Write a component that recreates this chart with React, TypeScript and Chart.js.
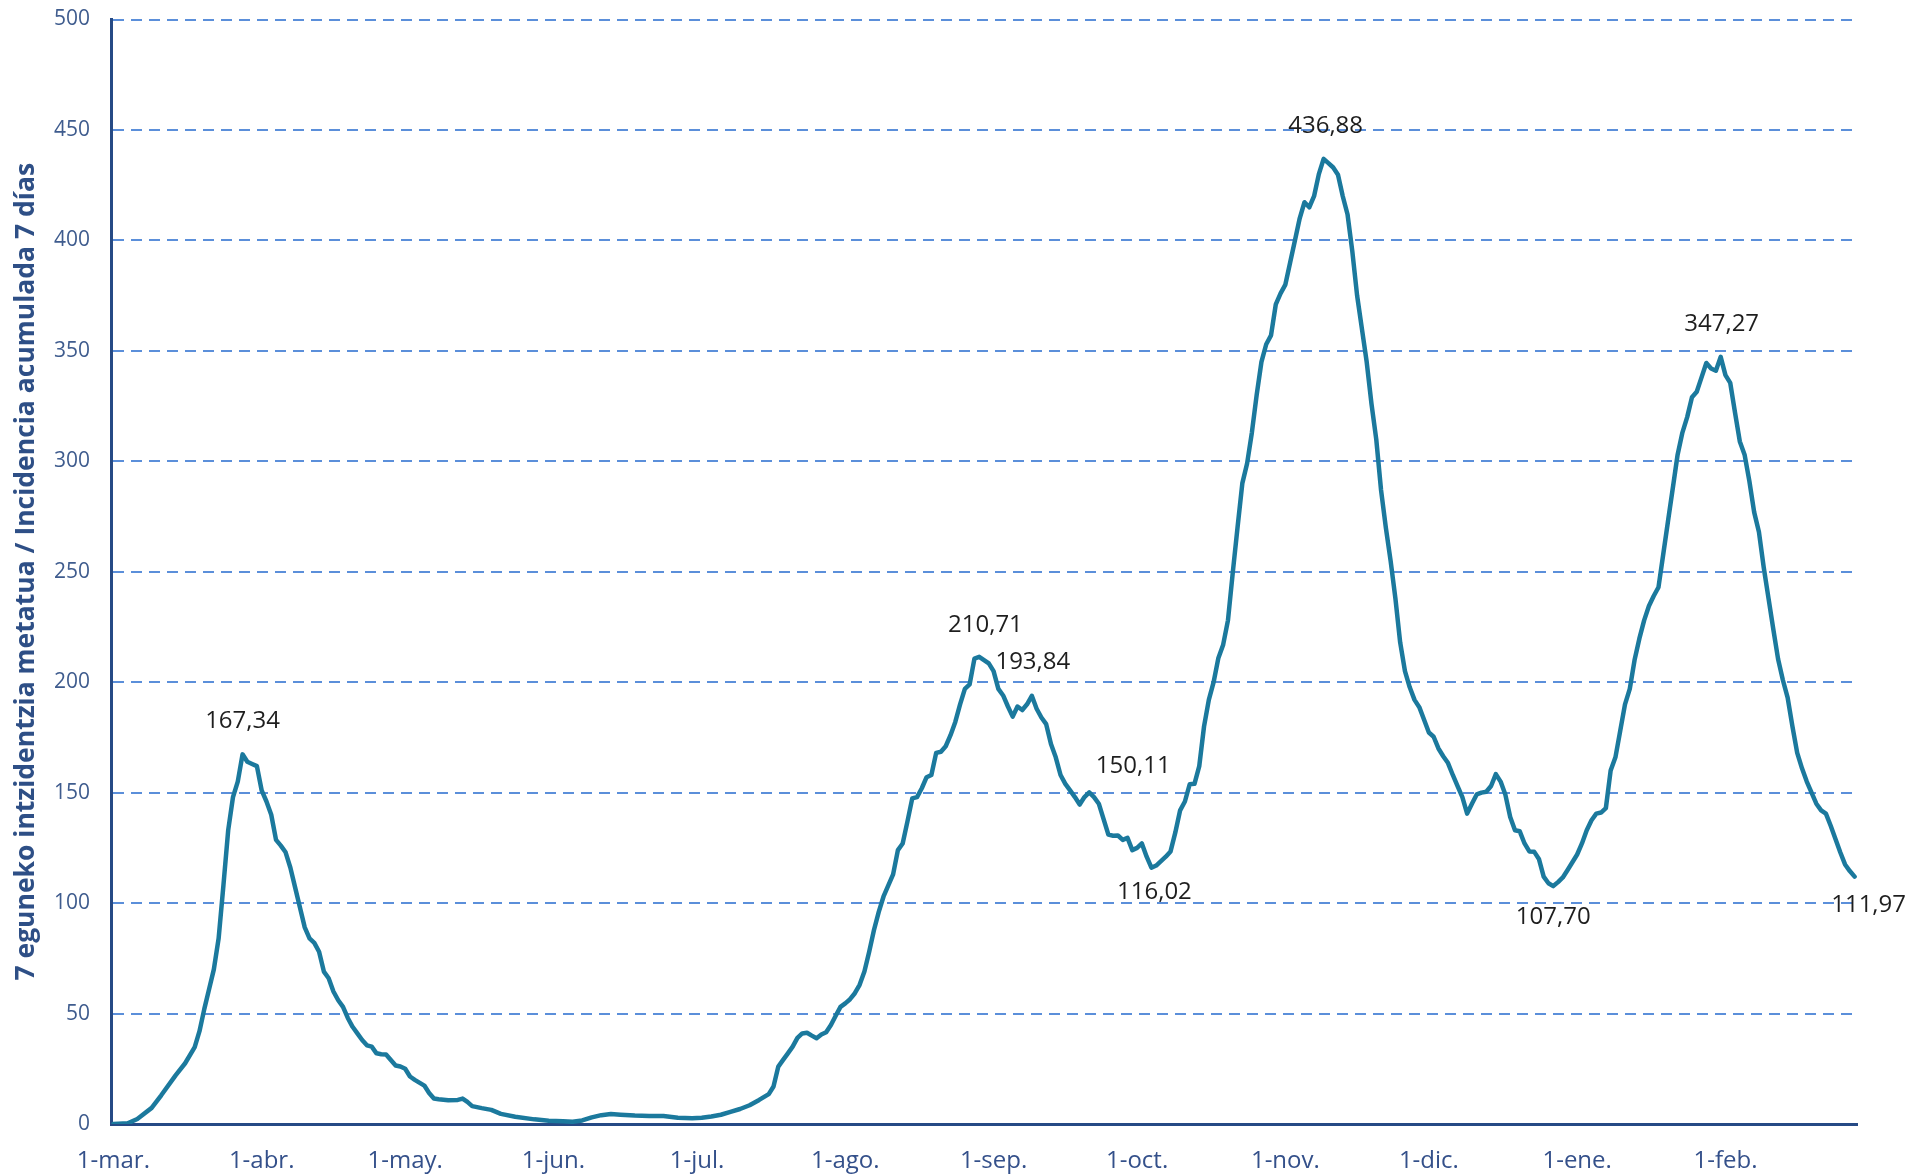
import React, { useEffect, useRef } from "react";
import { Chart, registerables } from "chart.js";

Chart.register(...registerables);

// Day index counted from 1-mar-2020 (day 0) to 28-feb-2021 (day 364)
const days: number[] = [
  0, 3, 5, 8, 10, 13, 15, 17, 18, 19, 20, 21, 22, 23, 24, 25, 26, 27, 28, 29,
  30, 31, 32, 33, 34, 35, 36, 37, 38, 39, 40, 41, 42, 43, 44, 45, 46, 47, 48, 49,
  50, 51, 52, 53, 54, 55, 56, 57, 58, 59, 60, 61, 62, 63, 65, 66, 67, 68, 70, 72,
  73, 74, 75, 77, 79, 81, 84, 88, 91, 94, 96, 98, 100, 102, 104, 106, 109, 112, 115, 118,
  121, 123, 125, 127, 129, 131, 133, 135, 137, 138, 139, 140, 141, 142, 143, 144, 145, 146, 147, 148,
  149, 150, 151, 152, 153, 154, 155, 156, 157, 158, 159, 160, 161, 162, 163, 164, 165, 166, 167, 168,
  169, 170, 171, 172, 173, 174, 175, 176, 177, 178, 179, 180, 181, 182, 183, 184, 185, 186, 187, 188,
  189, 190, 191, 192, 193, 194, 195, 196, 197, 198, 199, 200, 201, 202, 203, 204, 205, 206, 207, 208,
  209, 210, 211, 212, 213, 214, 215, 216, 217, 218, 219, 220, 221, 222, 223, 224, 225, 226, 227, 228,
  229, 230, 231, 232, 233, 234, 235, 236, 237, 238, 239, 240, 241, 242, 243, 244, 245, 246, 247, 248,
  249, 250, 251, 252, 253, 254, 255, 256, 257, 258, 259, 260, 261, 262, 263, 264, 265, 266, 267, 268,
  269, 270, 271, 272, 273, 274, 275, 276, 277, 278, 279, 280, 281, 282, 283, 284, 285, 286, 287, 288,
  289, 290, 291, 292, 293, 294, 295, 296, 297, 298, 299, 300, 301, 302, 303, 304, 305, 306, 307, 308,
  309, 310, 311, 312, 313, 314, 315, 316, 317, 318, 319, 320, 321, 322, 323, 324, 325, 326, 327, 328,
  329, 330, 331, 332, 333, 334, 335, 336, 337, 338, 339, 340, 341, 342, 343, 344, 345, 346, 347, 348,
  349, 350, 351, 352, 353, 354, 355, 356, 357, 358, 359, 360, 361, 362, 363, 364,
];

const incidence: number[] = [
  0, 0.3, 2.3, 7.3, 13, 22, 27.5, 34.8, 42, 52, 61, 70, 84, 108, 133, 148, 155, 167.34, 164, 163,
  162, 151, 146, 140, 128.6, 126, 123, 116, 107, 98, 89, 84, 82, 78, 69, 66, 60, 56, 53, 48,
  44, 41, 38, 35.6, 35, 32, 31.6, 31.5, 29, 26.5, 26, 25, 21.5, 20, 17.4, 14, 11.5, 11.2, 10.8, 10.9,
  11.5, 10, 8.1, 7.2, 6.4, 4.6, 3.3, 2.1, 1.5, 1.2, 1.0, 1.6, 3.0, 4.0, 4.5, 4.2, 3.8, 3.6, 3.6, 2.8,
  2.6, 2.8, 3.4, 4.2, 5.5, 6.8, 8.5, 10.9, 13.5, 17, 26, 29, 32, 35, 39, 41, 41.3, 40, 38.8, 40.5,
  41.5, 44.8, 49, 53, 54.6, 56.5, 59.2, 63, 69, 78, 87.8, 96, 103, 108, 113, 124, 127, 137, 147.4, 148,
  152, 157, 158, 168, 168.5, 171, 176, 182, 190, 197, 199, 210.71, 211.5, 210, 208.5, 205, 197, 194, 189, 184.4,
  189, 187.4, 190, 193.84, 188, 184, 181, 172, 166, 158, 154, 151, 148, 144.6, 148, 150.11, 148, 145, 138, 131,
  130.5, 130.6, 128.6, 129.5, 124, 125, 127, 121, 116.02, 117, 119, 121, 123.4, 132, 142, 146, 153.8, 154, 162, 180,
  192, 200, 211, 217, 228, 249.5, 270, 290, 299, 313, 330, 345, 353, 357, 371, 376, 380, 390, 400, 410,
  417.3, 415, 420, 430, 436.88, 435, 433, 429.7, 420, 411.7, 395, 375, 360, 345, 326, 310, 287, 270, 255, 238,
  218, 205, 197.7, 192, 188.7, 183, 177.2, 175.3, 170, 166.5, 163.4, 158, 153, 148, 140.5, 145, 149.2, 150, 150.4, 153,
  158.4, 155, 149, 139, 133, 132.5, 127, 123.4, 123.3, 120, 112, 109, 107.7, 109.5, 111.6, 115, 118.5, 122, 127, 133,
  137.5, 140.5, 141, 143, 160, 166, 178, 190, 197, 210, 219.7, 228, 234.5, 239, 243, 258, 273, 288, 303, 313,
  320, 329, 331.5, 338, 344.5, 342, 341, 347.27, 339, 335.5, 322, 309, 303, 291, 277, 268, 252, 238, 224, 210.5,
  201, 193, 180, 168, 161, 155, 150, 145, 142, 140.5, 135, 129, 123, 117.5, 114.5, 111.97,
];

const monthTickDays: number[] = [0, 31, 61, 92, 122, 153, 184, 214, 245, 275, 306, 337];
const monthTickLabels: string[] = [
  "1-mar.", "1-abr.", "1-may.", "1-jun.", "1-jul.", "1-ago.",
  "1-sep.", "1-oct.", "1-nov.", "1-dic.", "1-ene.", "1-feb.",
];

const annotatedDays: number[] = [27, 180, 192, 204, 217, 253, 301, 336, 364];
const annotatedValues: number[] = [167.34, 210.71, 193.84, 150.11, 116.02, 436.88, 107.7, 347.27, 111.97];

const yAxisTitle = "7 eguneko intzidentzia metatua / Incidencia acumulada 7 días";

// label placement offsets (px) relative to the annotated point
const annotationOffsets: [number, number][] = [
  [0, -33], [11, -33], [1, -34], [44, -26], [3, 24], [2, -33], [0, 31], [1, -33], [14, 28],
];

const FONT = '"Open Sans", "Liberation Sans", sans-serif';

const fmt = (v: number) => v.toFixed(2).replace(".", ",");

const annotationPlugin = {
  id: "peakLabels",
  afterDatasetsDraw(chart: any) {
    const { ctx, scales } = chart;
    ctx.save();
    ctx.font = `24px ${FONT}`;
    ctx.fillStyle = "#1e1e1e";
    ctx.textAlign = "center";
    ctx.textBaseline = "middle";
    annotatedDays.forEach((d, i) => {
      const x = scales.x.getPixelForValue(d) + annotationOffsets[i][0];
      const y = scales.y.getPixelForValue(annotatedValues[i]) + annotationOffsets[i][1];
      ctx.fillText(fmt(annotatedValues[i]), x, y);
    });
    ctx.restore();
  },
};

export default function App() {
  const canvasRef = useRef<HTMLCanvasElement | null>(null);

  useEffect(() => {
    if (!canvasRef.current) return;
    const points = days.map((d, i) => ({ x: d, y: incidence[i] }));
    const chart = new Chart(canvasRef.current, {
      type: "line",
      data: {
        datasets: [
          {
            data: points,
            borderColor: "#1B799D",
            borderWidth: 4.5,
            borderJoinStyle: "round",
            borderCapStyle: "round",
            pointRadius: 0,
            tension: 0,
            fill: false,
          },
        ],
      },
      options: {
        animation: false,
        responsive: true,
        maintainAspectRatio: false,
        layout: { padding: { top: 19.5, right: 57, bottom: 0, left: 0 } },
        plugins: {
          legend: { display: false },
          tooltip: { enabled: false },
          title: { display: false },
        },
        scales: {
          x: {
            type: "linear",
            min: -0.5,
            max: 364.5,
            afterBuildTicks: (axis: any) => {
              axis.ticks = monthTickDays.map((v) => ({ value: v }));
            },
            afterFit: (axis: any) => {
              axis.height = 50;
            },
            ticks: {
              autoSkip: false,
              maxRotation: 0,
              minRotation: 0,
              padding: 23,
              color: "#34508A",
              font: { family: FONT, size: 24 },
              callback: (v: any) => {
                const idx = monthTickDays.indexOf(Number(v));
                return idx >= 0 ? monthTickLabels[idx] : "";
              },
            },
            grid: { display: true, color: "rgba(0,0,0,0)", drawTicks: false },
            border: { display: true, color: "#264A85", width: 3 },
          },
          y: {
            min: 0,
            max: 500,
            afterFit: (axis: any) => {
              axis.width = 111;
              axis.paddingTop = 0;
              axis.paddingBottom = 0;
            },
            ticks: {
              stepSize: 50,
              padding: 21,
              color: "#3F5C8E",
              font: { family: FONT, size: 21 },
            },
            grid: { color: "#5B8FDA", lineWidth: 2, drawTicks: false },
            border: { display: true, color: "#264A85", width: 3, dash: [11, 7] },
            title: {
              display: true,
              text: yAxisTitle,
              color: "#2E4F86",
              font: { family: FONT, size: 26.5, weight: "bold" },
              padding: { top: 11, bottom: 0 },
            },
          },
        },
      },
      plugins: [annotationPlugin],
    });
    return () => chart.destroy();
  }, []);

  return (
    <div style={{ position: "fixed", left: 0, top: 0, width: 1914, height: 1174, background: "#fff" }}>
      <canvas ref={canvasRef} />
    </div>
  );
}
